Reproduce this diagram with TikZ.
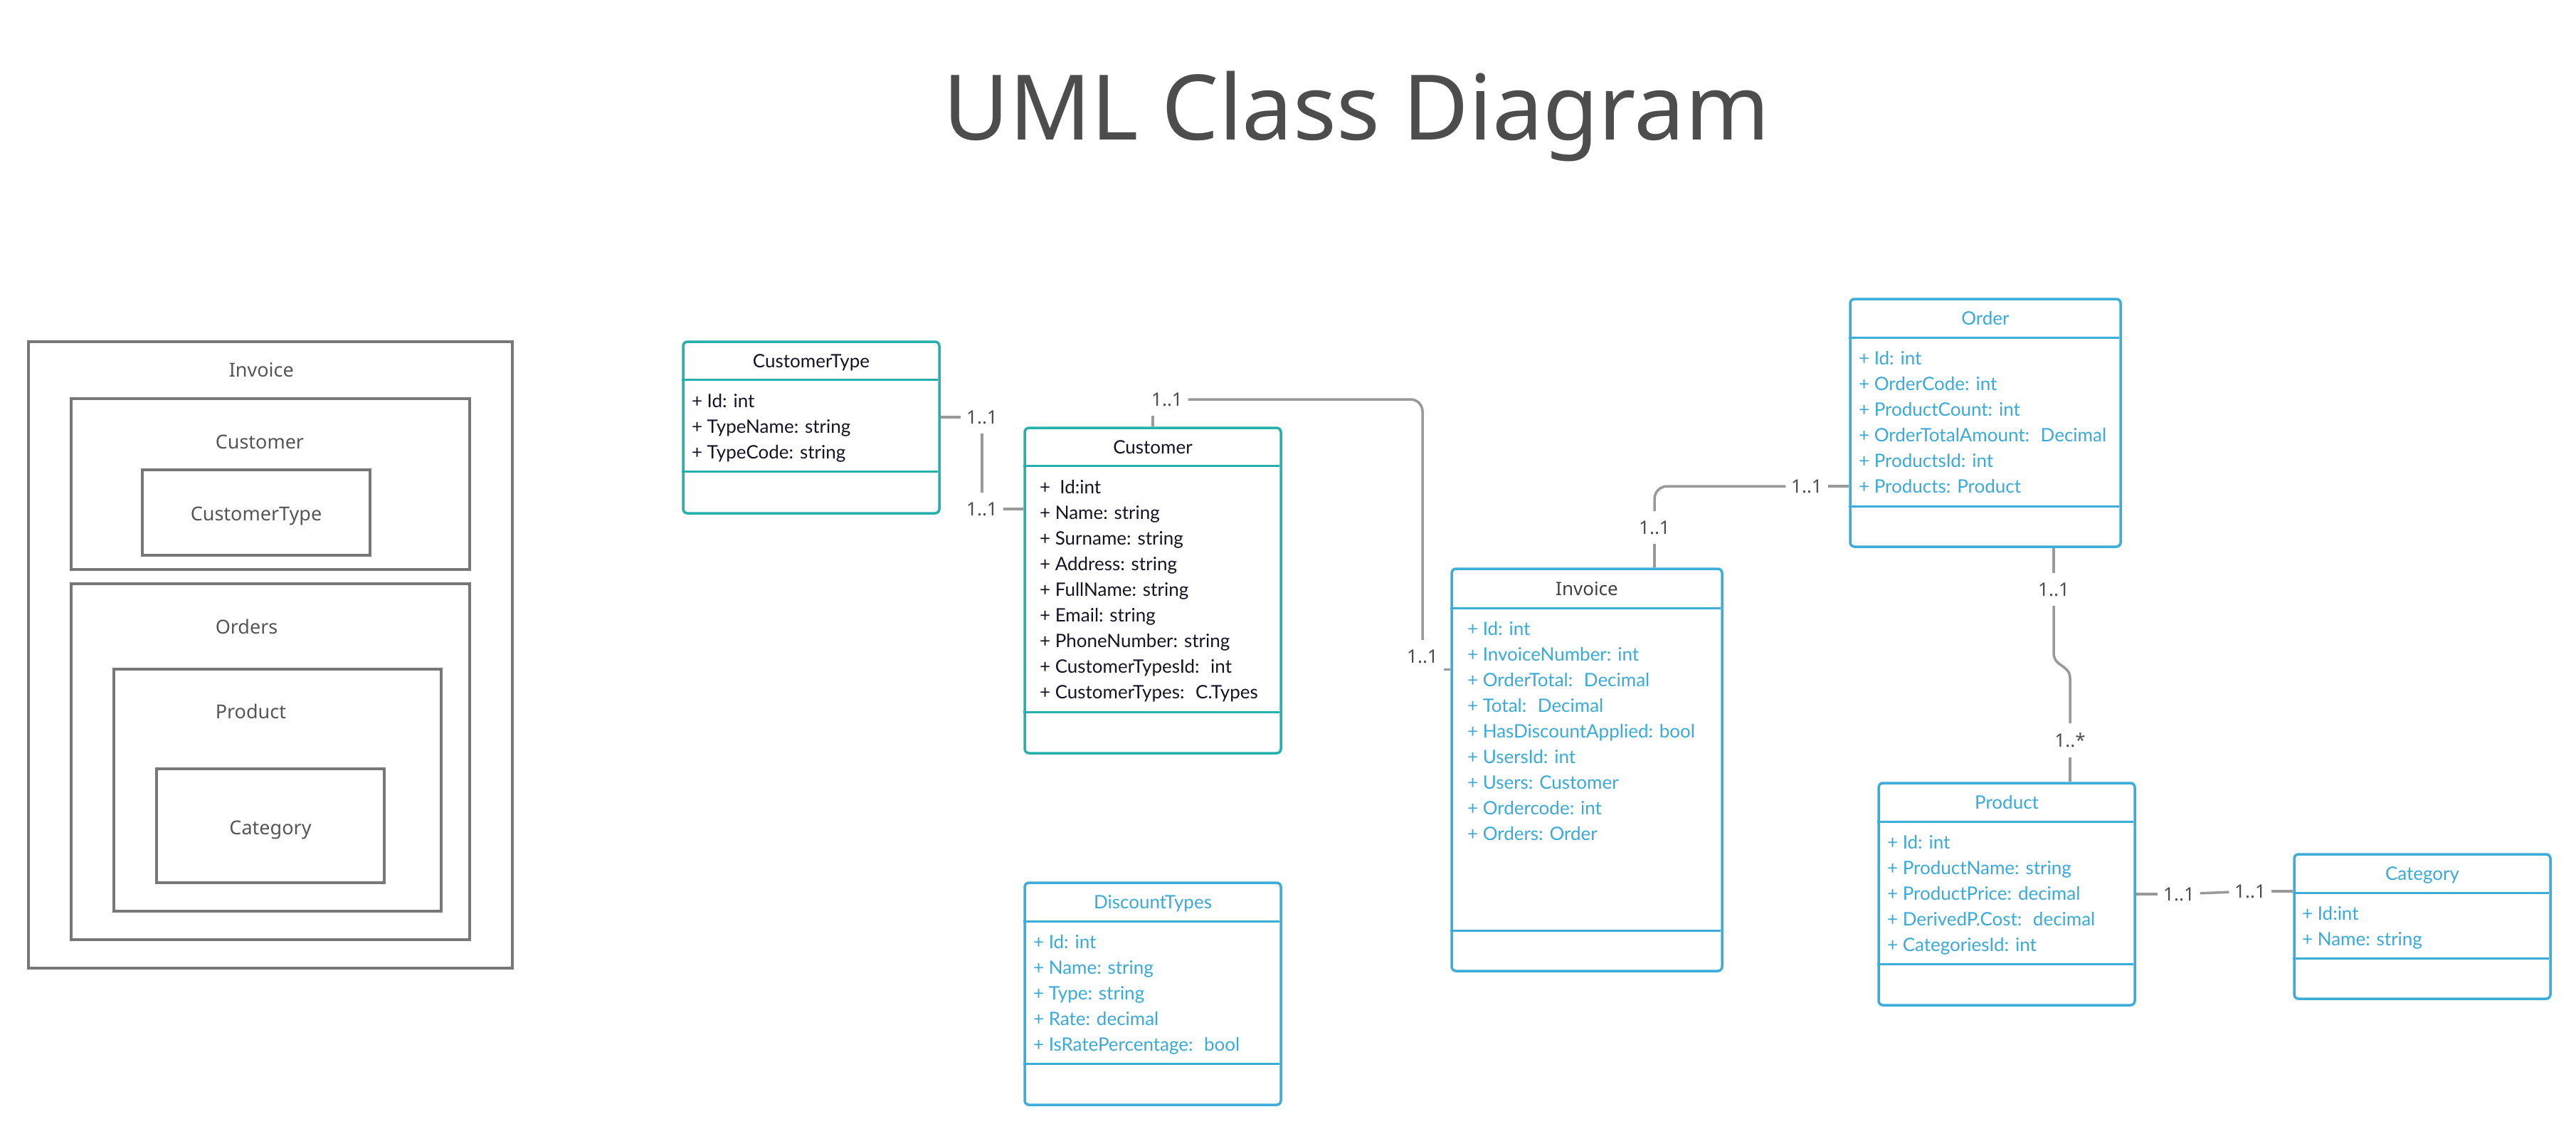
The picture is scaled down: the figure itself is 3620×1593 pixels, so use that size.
\documentclass[tikz,border=0pt]{standalone}
\usepackage{fontspec}
\setmainfont{Noto Sans}
\newfontfamily\latofont{Lato}

\tikzset{every picture/.style={line width=3.5pt}}
\tikzset{
  tealclass/.style={draw, color={rgb, 255:red, 38; green, 176; blue, 171}, fill=white, rounded corners=6pt, inner sep=0pt},
  blueclass/.style={draw, color={rgb, 255:red, 60; green, 173; blue, 217}, fill=white, rounded corners=6pt, inner sep=0pt},
  tealline/.style={color={rgb, 255:red, 38; green, 176; blue, 171}},
  blueline/.style={color={rgb, 255:red, 60; green, 173; blue, 217}},
  darktext/.style={font=\latofont\fontsize{26}{36}\selectfont, color={rgb, 255:red, 20; green, 20; blue, 38}, inner sep=0pt, align=left},
  bluetext/.style={font=\latofont\fontsize{26}{36}\selectfont, color={rgb, 255:red, 57; green, 170; blue, 217}, inner sep=0pt, align=left},
  graytitle/.style={font=\fontsize{26}{36}\selectfont, color={rgb, 255:red, 64; green, 64; blue, 64}, inner sep=0pt},
  mult/.style={font=\fontsize{26}{30}\selectfont, color={rgb, 255:red, 77; green, 77; blue, 77}, inner xsep=6pt, inner ysep=12pt},
  assoc/.style={color={rgb, 255:red, 153; green, 153; blue, 153}},
  nestbox/.style={color={rgb, 255:red, 119; green, 119; blue, 119}, line width=4pt},
  nestlabel/.style={font=\fontsize{27}{32}\selectfont, color={rgb, 255:red, 85; green, 85; blue, 85}, inner sep=0pt}
}

\begin{document}
\begin{tikzpicture}[x=1pt,y=1pt,yscale=-1,xscale=1]
		\useasboundingbox (0,0) rectangle (3620,1593);

		\node [font=\fontsize{127}{150}\selectfont, color={rgb, 255:red, 77; green, 77; blue, 77}, anchor=base] (title) at (1906,196) {UML Class Diagram};

		%nested boxes on the left
		\draw [nestbox] (40,480) rectangle (720,1360);
		\draw [nestbox] (100,560) rectangle (660,800);
		\draw [nestbox] (200,660) rectangle (520,780);
		\draw [nestbox] (100,820) rectangle (660,1320);
		\draw [nestbox] (160,940) rectangle (620,1280);
		\draw [nestbox] (220,1080) rectangle (540,1240);

		\node [nestlabel, anchor=base west] (nest-invoice) at (320,529) {Invoice};
		\node [nestlabel, anchor=base west] (nest-customer) at (301,630) {Customer};
		\node [nestlabel, anchor=base] (nest-ctype) at (360,731) {CustomerType};
		\node [nestlabel, anchor=base west] (nest-orders) at (301,890) {Orders};
		\node [nestlabel, anchor=base west] (nest-product) at (301,1009) {Product};
		\node [nestlabel, anchor=base] (nest-category) at (380,1172) {Category};

		%CustomerType
		\node [tealclass, minimum width=360, minimum height=241] (ctype) at (1140,600.5) {};
		\draw [tealline] (ctype.north west) ++(0,55) -- ++(360,0);
		\draw [tealline] (ctype.north west) ++(0,184) -- ++(360,0);
		\path (ctype.north) ++(0,38) node [darktext, anchor=base] (ctype-name) {CustomerType};
		\path (ctype.north west) ++(12,166) node [darktext, anchor=base west] (ctype-attr) {+ Id: int\\+ TypeName: string\\+ TypeCode: string};

		%Customer
		\node [tealclass, minimum width=360, minimum height=457] (customer) at (1620,829.5) {};
		\draw [tealline] (customer.north west) ++(0,55) -- ++(360,0);
		\draw [tealline] (customer.north west) ++(0,401) -- ++(360,0);
		\path (customer.north) ++(0,38) node [darktext, anchor=base] (customer-name) {Customer};
		\path (customer.north west) ++(21,382) node [darktext, anchor=base west] (customer-attr) {+~ Id:int\\+ Name: string\\+ Surname: string\\+ Address: string\\+ FullName: string\\+ Email: string\\+ PhoneNumber: string\\+ CustomerTypesId:~ int\\+ CustomerTypes:~ C.Types};

		%DiscountTypes
		\node [blueclass, minimum width=360, minimum height=312] (discount) at (1620,1396) {};
		\draw [blueline] (discount.north west) ++(0,56) -- ++(360,0);
		\draw [blueline] (discount.north west) ++(0,256) -- ++(360,0);
		\path (discount.north) ++(0,38) node [bluetext, anchor=base] (discount-name) {DiscountTypes};
		\path (discount.north west) ++(12,238) node [bluetext, anchor=base west] (discount-attr) {+ Id: int\\+ Name: string\\+ Type: string\\+ Rate: decimal\\+ IsRatePercentage:~ bool};

		%Invoice
		\node [blueclass, minimum width=380, minimum height=565] (invoice) at (2230,1081.5) {};
		\draw [blueline] (invoice.north west) ++(0,57) -- ++(380,0);
		\draw [blueline] (invoice.north west) ++(0,510) -- ++(380,0);
		\path (invoice.north) ++(0,39) node [graytitle, anchor=base] (invoice-name) {Invoice};
		\path (invoice.north west) ++(22,383) node [bluetext, anchor=base west] (invoice-attr) {+ Id: int\\+ InvoiceNumber: int\\+ OrderTotal:~ Decimal\\+ Total:~ Decimal\\+ HasDiscountApplied: bool\\+ UsersId: int\\+ Users: Customer\\+ Ordercode: int\\+ Orders: Order};

		%Order
		\node [blueclass, minimum width=380, minimum height=348] (order) at (2790,594) {};
		\draw [blueline] (order.north west) ++(0,56) -- ++(380,0);
		\draw [blueline] (order.north west) ++(0,293) -- ++(380,0);
		\path (order.north) ++(0,38) node [bluetext, anchor=base] (order-name) {Order};
		\path (order.north west) ++(12,274) node [bluetext, anchor=base west] (order-attr) {+ Id: int\\+ OrderCode: int\\+ ProductCount: int\\+ OrderTotalAmount:~ Decimal\\+ ProductsId: int\\+ Products: Product};

		%Product
		\node [blueclass, minimum width=360, minimum height=312] (product) at (2820,1256) {};
		\draw [blueline] (product.north west) ++(0,56) -- ++(360,0);
		\draw [blueline] (product.north west) ++(0,256) -- ++(360,0);
		\path (product.north) ++(0,38) node [bluetext, anchor=base] (product-name) {Product};
		\path (product.north west) ++(12,238) node [bluetext, anchor=base west] (product-attr) {+ Id: int\\+ ProductName: string\\+ ProductPrice: decimal\\+ DerivedP.Cost:~ decimal\\+ CategoriesId: int};

		%Category
		\node [blueclass, minimum width=360, minimum height=203] (category) at (3404,1301.5) {};
		\draw [blueline] (category.north west) ++(0,56) -- ++(360,0);
		\draw [blueline] (category.north west) ++(0,148) -- ++(360,0);
		\path (category.north) ++(0,38) node [bluetext, anchor=base] (category-name) {Category};
		\path (category.north west) ++(11,130) node [bluetext, anchor=base west] (category-attr) {+ Id:int\\+ Name: string};

		%multiplicities
		\node [mult] (m-ctype) at (1380,586) {1..1};
		\node [mult] (m-cust1) at (1380,715) {1..1};
		\node [mult] (m-cust2) at (1640,561) {1..1};
		\node [mult] (m-inv1) at (1999,922) {1..1};
		\node [mult] (m-inv2) at (2325,741) {1..1};
		\node [mult] (m-order1) at (2539,683) {1..1};
		\node [mult] (m-order2) at (2886,828) {1..1};
		\node [mult] (m-prod1) at (2909,1040) {1..*};
		\node [mult] (m-prod2) at (3062,1256) {1..1};
		\node [mult] (m-cat) at (3162,1252) {1..1};

		%associations
		\draw [assoc] (ctype.east |- m-ctype) -- (m-ctype);
		\draw [assoc] (m-ctype) -- (m-cust1);
		\draw [assoc] (m-cust1) -- (customer.west |- m-cust1);

		\draw [assoc] (customer.north) -- (customer.north |- m-cust2.south);
		\draw [assoc, rounded corners=17pt] (m-cust2) -| (m-inv1);
		\path (invoice.north west) ++(0,143) coordinate (inv-west);
		\draw [assoc] (m-inv1.east |- inv-west) -- (inv-west);

		\draw [assoc] (m-inv2 |- invoice.north) -- (m-inv2);
		\draw [assoc, rounded corners=18pt] (m-inv2) |- (m-order1);
		\draw [assoc] (m-order1) -- (order.west |- m-order1);

		\draw [assoc] (m-order2 |- order.south) -- (m-order2);
		\draw [assoc] (m-order2.south) -- ++(0,66) .. controls +(0,20) and +(0,-20) .. ++(23,36) -- (m-prod1.north);
		\draw [assoc] (m-prod1) -- (m-prod1 |- product.north);

		\draw [assoc] (product.east |- m-prod2) -- (m-prod2);
		\draw [assoc] (m-prod2) -- (m-cat);
		\draw [assoc] (m-cat) -- (category.west |- m-cat);

		\end{tikzpicture}
\end{document}
